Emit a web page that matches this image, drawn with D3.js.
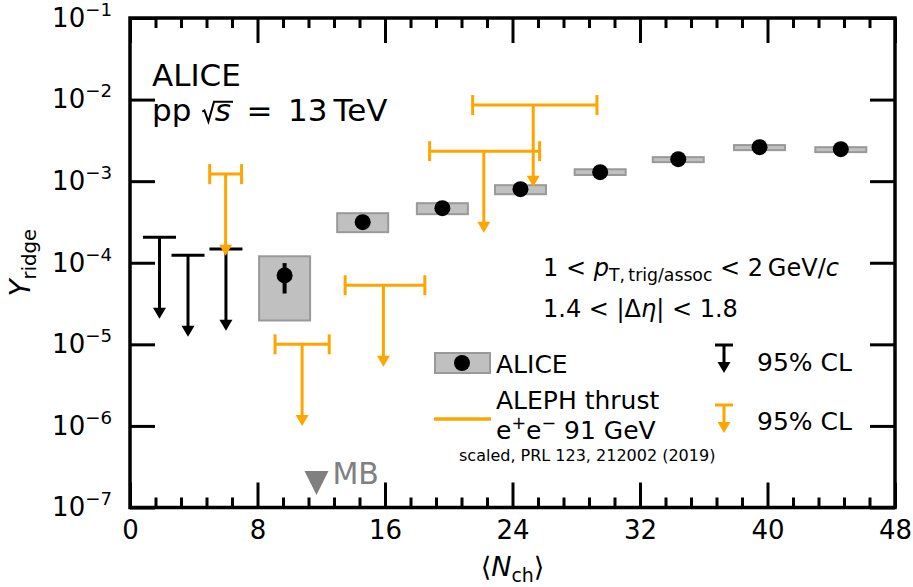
<!DOCTYPE html>
<html>
<head>
<meta charset="utf-8">
<script src="https://cdn.jsdelivr.net/npm/d3@7"></script>
<style>
  body { margin: 0; background: #fff; }
  svg { font-family: "DejaVu Sans", sans-serif; }
  text { white-space: pre; }
</style>
</head>
<body>
<svg width="913" height="587"></svg>
<script>
// size of the drawing
var screenWidth = 913,
    screenHeight = 587,
    margin = {top: 18, right: 18, bottom: 80, left: 130};

// ALICE pp 13 TeV measured points
var aliceN      = [9.7, 14.6, 19.6, 24.5, 29.5, 34.4, 39.5, 44.6];
var aliceY      = [7.0e-5, 3.14e-4, 4.67e-4, 7.98e-4, 1.29e-3, 1.86e-3, 2.61e-3, 2.47e-3];
var aliceStatLo = [4.2e-5, 3.14e-4, 4.67e-4, 7.98e-4, 1.29e-3, 1.86e-3, 2.61e-3, 2.47e-3];
var aliceStatHi = [9.9e-5, 3.14e-4, 4.67e-4, 7.98e-4, 1.29e-3, 1.86e-3, 2.61e-3, 2.47e-3];
var aliceSysLo  = [1.96e-5, 2.37e-4, 3.94e-4, 6.92e-4, 1.19e-3, 1.71e-3, 2.40e-3, 2.27e-3];
var aliceSysHi  = [1.2e-4, 4.05e-4, 5.37e-4, 8.93e-4, 1.40e-3, 1.97e-3, 2.77e-3, 2.61e-3];
var aliceSysHalfWidth = 1.6;

// ALICE 95% CL upper limits
var aliceUlN = [1.85, 3.64, 6.02];
var aliceUlY = [2.06e-4, 1.24e-4, 1.47e-4];

// ALEPH thrust e+e- 91 GeV, 95% CL upper limits (scaled)
var alephN   = [6.0, 10.8, 15.9, 22.2, 25.3];
var alephNLo = [5.0, 9.1, 13.5, 18.8, 21.5];
var alephNHi = [7.0, 12.5, 18.5, 25.7, 29.3];
var alephY   = [1.22e-3, 1.0e-5, 5.3e-5, 2.33e-3, 8.57e-3];

// minimum bias <Nch>
var mbN = 11.7, mbY = 2.0e-7;

// axis ticks
var xMajorTicks = [0, 8, 16, 24, 32, 40, 48];
var xMinorTicks = d3.range(31).map(function(i) { return i * 1.6; })
                    .filter(function(d, i) { return i % 5 != 0; });
var yTicks = [1e-7, 1e-6, 1e-5, 1e-4, 1e-3, 1e-2, 1e-1];

var orange = "#ffa500",
    boxFill = "#c0c0c0",
    boxEdge = "#999999",
    ulDecades = 1;  // limit arrows run one decade down

var xScale = d3.scaleLinear()
               .domain([0, 48])
               .range([margin.left, screenWidth - margin.right]);
var yScale = d3.scaleLog()
               .domain([1e-7, 1e-1])
               .range([screenHeight - margin.bottom + 0.5, margin.top]);

var svg = d3.select("svg");

// text with italic / sub / sup parts
function richText(sel, x, y, parts, size, anchor, subSize) {
  var t = sel.append("text")
             .attr("x", x).attr("y", y)
             .attr("font-size", size)
             .attr("text-anchor", anchor || "start");
  var shift = 0;
  parts.forEach(function(p) {
    var s = p.sub ? size * 0.22 : (p.sup ? -size * 0.42 : 0);
    var ts = t.append("tspan").attr("dy", s - shift).text(p.t);
    shift = s;
    if (p.dx) ts.attr("dx", p.dx);
    if (p.sub || p.sup) ts.attr("font-size", size * (subSize || 0.7));
    if (p.i) ts.attr("font-style", "italic");
  });
  return t;
}

// width of a piece of text
function textWidth(str, size, italic) {
  var t = svg.append("text").attr("font-size", size)
             .attr("font-style", italic ? "italic" : "normal").text(str);
  var w = t.node().getComputedTextLength();
  t.remove();
  return w;
}

function arrowHead(sel, x, yTip, color) {
  sel.append("path")
     .attr("d", "M" + (x - 6.5) + "," + (yTip - 11) + "L" + (x + 6.5) + "," + (yTip - 11) +
                "L" + x + "," + yTip + "Z")
     .attr("fill", color);
}

// axes: bottom (labels), top, left (labels), right
var plotH = yScale(1e-7) - yScale(1e-1),
    plotW = xScale(48) - xScale(0);

var xAxisG = svg.append("g")
   .attr("transform", "translate(0," + yScale(1e-7) + ")")
   .call(d3.axisBottom(xScale).tickValues(xMajorTicks).tickSize(-25).tickPadding(13).tickFormat(d3.format("d")));
svg.append("g")
   .attr("transform", "translate(0," + yScale(1e-7) + ")")
   .call(d3.axisBottom(xScale).tickValues(xMinorTicks).tickSize(-10).tickFormat(""));
svg.append("g")
   .attr("transform", "translate(0," + yScale(1e-1) + ")")
   .call(d3.axisTop(xScale).tickValues(xMajorTicks).tickSize(-25).tickFormat(""));
svg.append("g")
   .attr("transform", "translate(0," + yScale(1e-1) + ")")
   .call(d3.axisTop(xScale).tickValues(xMinorTicks).tickSize(-10).tickFormat(""));

var yAxisG = svg.append("g")
   .attr("transform", "translate(" + xScale(0) + ",0)")
   .call(d3.axisLeft(yScale).tickValues(yTicks).tickSize(-25).tickPadding(18).tickFormat(""));
svg.append("g")
   .attr("transform", "translate(" + xScale(48) + ",0)")
   .call(d3.axisRight(yScale).tickValues(yTicks).tickSize(-25).tickFormat(""));

svg.selectAll(".domain").remove();
svg.selectAll(".tick line").attr("stroke-width", 3);
xAxisG.selectAll(".tick text").attr("font-size", 26).attr("font-family", "DejaVu Sans").attr("fill", "#000");

yAxisG.selectAll(".tick text")
   .attr("font-size", 26).attr("font-family", "DejaVu Sans").attr("fill", "#000")
   .each(function(d) {
     var t = d3.select(this);
     t.append("tspan").text("10");
     t.append("tspan").attr("dy", "-0.6em").attr("font-size", "0.7em")
      .text("\u2212" + Math.round(-Math.log10(d)));
   });

// ALICE systematic boxes
svg.append("g").selectAll("rect")
   .data(aliceN)
   .enter().append("rect")
   .attr("x", function(d) { return xScale(d - aliceSysHalfWidth); })
   .attr("width", function(d) { return xScale(d + aliceSysHalfWidth) - xScale(d - aliceSysHalfWidth); })
   .attr("y", function(d, i) { return yScale(aliceSysHi[i]); })
   .attr("height", function(d, i) { return yScale(aliceSysLo[i]) - yScale(aliceSysHi[i]); })
   .attr("fill", boxFill)
   .attr("stroke", boxEdge)
   .attr("stroke-width", 2);

// ALICE upper limits
var ulG = svg.append("g");
aliceUlN.forEach(function(n, i) {
  var x = xScale(n), y0 = yScale(aliceUlY[i]),
      y1 = yScale(aliceUlY[i] / Math.pow(10, ulDecades));
  ulG.append("line").attr("x1", x - 16.5).attr("x2", x + 16.5).attr("y1", y0).attr("y2", y0)
     .attr("stroke", "#000").attr("stroke-width", 3);
  ulG.append("line").attr("x1", x).attr("x2", x).attr("y1", y0).attr("y2", y1 - 8)
     .attr("stroke", "#000").attr("stroke-width", 3);
  arrowHead(ulG, x, y1, "#000");
});

// ALEPH upper limits
var alG = svg.append("g");
alephN.forEach(function(n, i) {
  var x = xScale(n), y0 = yScale(alephY[i]),
      y1 = yScale(alephY[i] / Math.pow(10, ulDecades)),
      xl = xScale(alephNLo[i]), xr = xScale(alephNHi[i]);
  alG.append("line").attr("x1", xl).attr("x2", xr).attr("y1", y0).attr("y2", y0)
     .attr("stroke", orange).attr("stroke-width", 3);
  [xl, xr].forEach(function(xc) {
    alG.append("line").attr("x1", xc).attr("x2", xc).attr("y1", y0 - 10).attr("y2", y0 + 10)
       .attr("stroke", orange).attr("stroke-width", 3);
  });
  alG.append("line").attr("x1", x).attr("x2", x).attr("y1", y0).attr("y2", y1 - 8)
     .attr("stroke", orange).attr("stroke-width", 3);
  arrowHead(alG, x, y1, orange);
});

// ALICE stat error bars and markers
svg.append("g").selectAll("line")
   .data(aliceN)
   .enter().append("line")
   .attr("x1", function(d) { return xScale(d); })
   .attr("x2", function(d) { return xScale(d); })
   .attr("y1", function(d, i) { return yScale(aliceStatHi[i]); })
   .attr("y2", function(d, i) { return yScale(aliceStatLo[i]); })
   .attr("stroke", "#000").attr("stroke-width", 4);
svg.append("g").selectAll("circle")
   .data(aliceN)
   .enter().append("circle")
   .attr("cx", function(d) { return xScale(d); })
   .attr("cy", function(d, i) { return yScale(aliceY[i]); })
   .attr("r", 8)
   .attr("fill", "#000");

// MB marker
var mbx = xScale(mbN), mby = yScale(mbY);
svg.append("path")
   .attr("d", "M" + (mbx - 12) + "," + (mby - 12) + "L" + (mbx + 12) + "," + (mby - 12) +
              "L" + mbx + "," + (mby + 12) + "Z")
   .attr("fill", "#808080");
svg.append("text").attr("x", mbx + 16).attr("y", mby + 1).attr("font-size", 30)
   .attr("fill", "#808080").text("MB");

// frame
svg.append("rect")
   .attr("x", xScale(0)).attr("y", yScale(1e-1))
   .attr("width", plotW).attr("height", plotH)
   .attr("fill", "none").attr("stroke", "#000").attr("stroke-width", 3.5);

// axis titles
richText(svg, xScale(24), 576, [{t: "\u27e8"}, {t: "N", i: true}, {t: "ch", sub: true}, {t: "\u27e9"}], 27, "middle");
richText(svg, 0, 0, [{t: "Y", i: true}, {t: "ridge", sub: true}], 28, "middle")
   .attr("transform", "translate(30," + ((yScale(1e-1) + yScale(1e-7)) / 2) + ") rotate(-90)");

// labels
var fs = 31, ppX = 152, ppY = 121;
svg.append("text").attr("x", ppX).attr("y", 86).attr("font-size", fs).text("ALICE");
richText(svg, ppX, ppY, [{t: "pp "}, {t: "s", i: true, dx: fs * 0.44},
                         {t: "\u2002=\u200213\u2009TeV"}], fs);
// square root sign drawn round s
var rx = ppX + textWidth("pp ", fs) + 1,
    rEnd = rx + fs * 0.44 + textWidth("s", fs, true) + 1;
svg.append("path")
   .attr("d", "M" + rx + "," + (ppY - fs * 0.30) +
              "L" + (rx + fs * 0.07) + "," + (ppY - fs * 0.34) +
              "L" + (rx + fs * 0.2) + "," + (ppY + fs * 0.02) +
              "L" + (rx + fs * 0.38) + "," + (ppY - fs * 0.62) +
              "L" + rEnd + "," + (ppY - fs * 0.62))
   .attr("fill", "none").attr("stroke", "#000").attr("stroke-width", 2)
   .attr("stroke-linejoin", "miter");

richText(svg, 543, 276, [{t: "1 < "}, {t: "p", i: true}, {t: "T,\u2009trig/assoc", sub: true},
                         {t: " < 2\u2009GeV/"}, {t: "c", i: true}], 24, "start", 0.72);
richText(svg, 543, 317, [{t: "1.4 < |\u0394"}, {t: "\u03b7", i: true}, {t: "| < 1.8"}], 24);

// legend
var lg = svg.append("g");
lg.append("rect").attr("x", 435).attr("y", 353).attr("width", 55).attr("height", 20)
  .attr("fill", boxFill).attr("stroke", boxEdge).attr("stroke-width", 2);
lg.append("circle").attr("cx", 462).attr("cy", 363).attr("r", 8).attr("fill", "#000");
lg.append("text").attr("x", 496).attr("y", 373).attr("font-size", 25).text("ALICE");

lg.append("line").attr("x1", 434).attr("x2", 491).attr("y1", 419).attr("y2", 419)
  .attr("stroke", orange).attr("stroke-width", 3.5);
lg.append("text").attr("x", 496).attr("y", 409).attr("font-size", 25).text("ALEPH thrust");
richText(lg, 496, 439, [{t: "e"}, {t: "+", sup: true}, {t: "e"}, {t: "\u2212", sup: true}, {t: " 91 GeV"}], 25);
lg.append("text").attr("x", 459).attr("y", 461).attr("font-size", 16).text("scaled, PRL 123, 212002 (2019)");

[{c: "#000", y: 345, ty: 371}, {c: orange, y: 405, ty: 430}].forEach(function(e) {
  lg.append("line").attr("x1", 715).attr("x2", 733).attr("y1", e.y).attr("y2", e.y)
    .attr("stroke", e.c).attr("stroke-width", 3);
  lg.append("line").attr("x1", 724).attr("x2", 724).attr("y1", e.y).attr("y2", e.y + 20)
    .attr("stroke", e.c).attr("stroke-width", 3);
  arrowHead(lg, 724, e.y + 28, e.c);
  lg.append("text").attr("x", 757).attr("y", e.ty).attr("font-size", 25).text("95% CL");
});
</script>
</body>
</html>
